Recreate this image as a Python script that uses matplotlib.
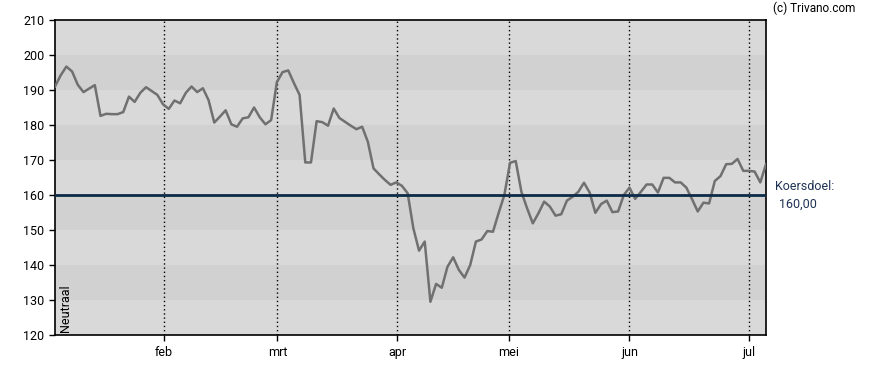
import matplotlib
matplotlib.use("Agg")
from matplotlib import pyplot as plt

plt.rcParams['font.family'] = ['Roboto', 'DejaVu Sans']

# koers per handelsdag (index 0 = begin januari)
koers = [191.0, 194.2, 196.7, 195.3, 191.5, 189.4, 190.4, 191.4, 182.6, 183.2,
         183.1, 183.1, 183.7, 188.1, 186.6, 189.2, 190.8, 189.7, 188.6, 185.9,
         184.6, 187.0, 186.2, 189.2, 191.0, 189.4, 190.5, 187.1, 180.7, 182.4,
         184.2, 180.2, 179.5, 181.9, 182.2, 185.0, 182.2, 180.2, 181.4, 192.2,
         195.1, 195.6, 192.0, 188.6, 169.3, 169.3, 181.1, 180.8, 179.8, 184.7,
         182.0, 180.9, 179.8, 178.8, 179.5, 175.2, 167.6, 165.9, 164.3, 162.9,
         163.6, 162.6, 160.5, 150.5, 144.1, 146.7, 129.5, 134.6, 133.5, 139.5,
         142.2, 138.6, 136.4, 140.0, 146.7, 147.3, 149.7, 149.5, 154.9, 160.0,
         169.2, 169.7, 160.9, 156.2, 151.9, 154.8, 158.1, 156.7, 154.1, 154.5,
         158.4, 159.5, 160.9, 163.5, 160.7, 154.9, 157.4, 158.4, 155.1, 155.3,
         160.0, 162.1, 158.9, 160.9, 163.0, 163.0, 160.7, 164.9, 164.9, 163.6,
         163.6, 162.1, 158.8, 155.3, 157.8, 157.6, 164.0, 165.4, 168.8, 168.9,
         170.3, 166.9, 166.9, 166.7, 163.6, 168.8]
koersdoel = 160.0

maanden = ["feb", "mrt", "apr", "mei", "jun", "jul"]
maand_pos = [19.2, 39.1, 60.2, 79.8, 101.0, 122.0]

y_ticks = [120, 130, 140, 150, 160, 170, 180, 190, 200, 210]

fig = plt.figure(figsize=(8.88, 3.70), dpi=100)
ax = fig.add_axes([55 / 888, 35 / 370, 711 / 888, 315 / 370])
ax.set_facecolor('#d9d9d9')

# afwisselende banden
for lo in y_ticks[1:-1:2]:
    ax.axhspan(lo, lo + 10, color='#d1d1d1', lw=0, zorder=0)

for p in maand_pos:
    ax.axvline(p, color='black', lw=1, ls=(0, (1, 2)), zorder=1)

x = list(range(len(koers)))
ax.plot(x, koers, color='#707070', lw=1.8, zorder=3)
ax.axhline(koersdoel, color='#0b2b48', lw=2, zorder=4)

ax.set_xlim(0, len(koers) - 1)
ax.set_ylim(120, 210)
ax.set_yticks(y_ticks)
ax.set_xticks(maand_pos)
ax.set_xticklabels(maanden)
ax.tick_params(axis='both', direction='out', length=4, width=1, labelsize=9, color='black')
ax.tick_params(axis='x', pad=4)
for s in ax.spines.values():
    s.set_linewidth(1.2)
    s.set_color('black')

ax.text(0.006, 0.01, "Neutraal", rotation=90, transform=ax.transAxes,
        ha='left', va='bottom', fontsize=9)

fig.text(773 / 888, 1 - 8 / 370, "(c) Trivano.com", ha='left', va='center', fontsize=8.5)
fig.text(775 / 888, 1 - 186 / 370, "Koersdoel:", ha='left', va='center', fontsize=9, color='#1f3354')
fig.text(779 / 888, 1 - 204 / 370, "160,00", ha='left', va='center', fontsize=9, color='#1f3354')

fig.savefig("out.png", dpi=100)
